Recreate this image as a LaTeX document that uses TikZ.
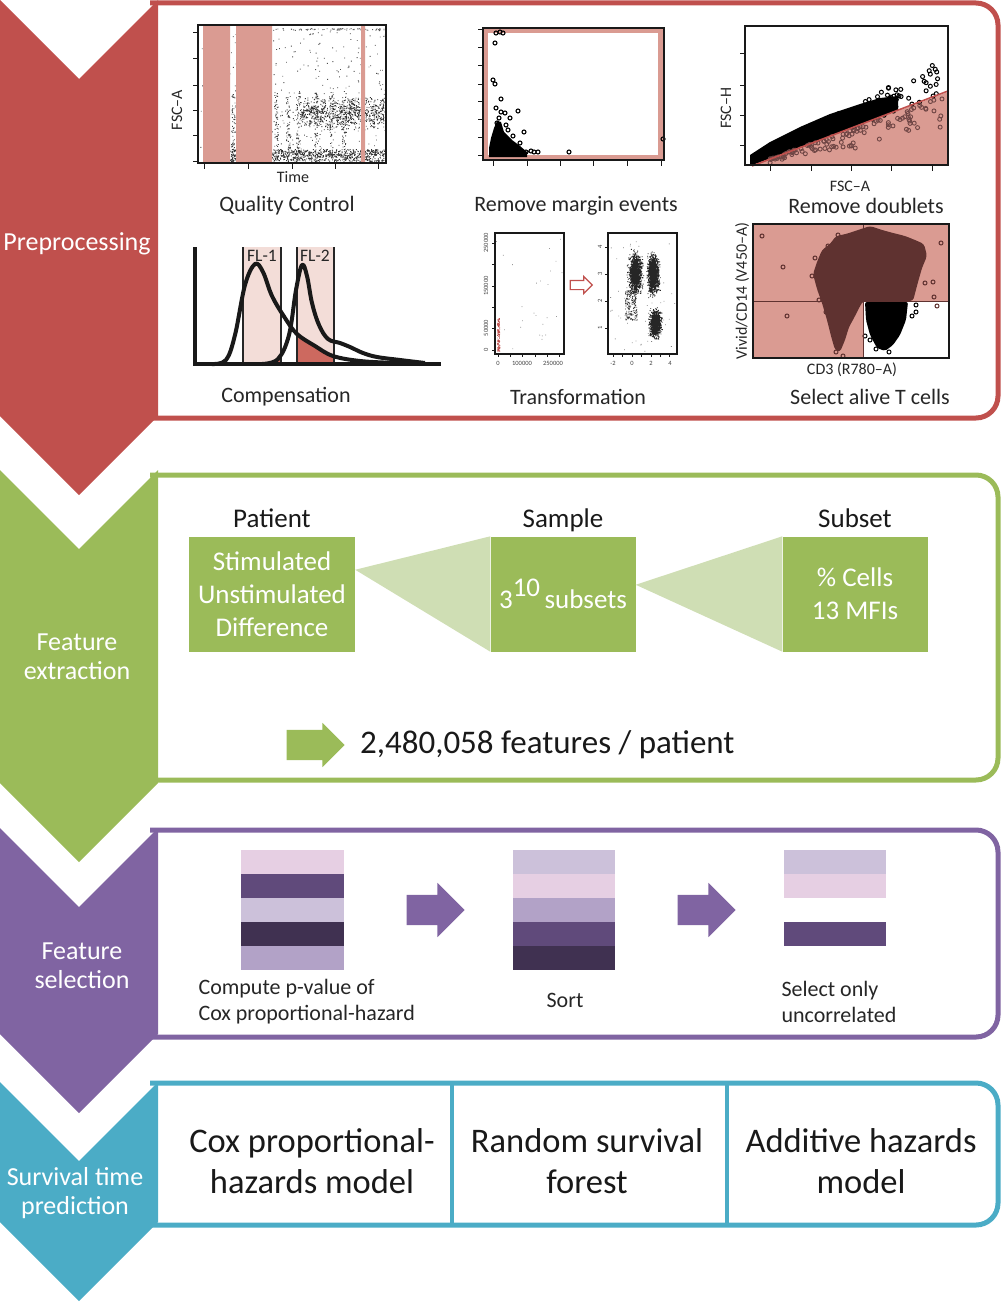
\documentclass[tikz,border=0pt]{standalone}
\usepackage{fontspec}
\setmainfont{Carlito}
\usetikzlibrary{positioning,calc,shapes.arrows}

\definecolor{prered}{HTML}{C0504D}
\definecolor{extgreen}{HTML}{9BBB59}
\definecolor{palegreen}{RGB}{207,222,180}
\definecolor{selpurple}{HTML}{8064A2}
\definecolor{predblue}{HTML}{4BACC6}
\definecolor{gatepink}{RGB}{218,155,146}
\definecolor{bandpink}{RGB}{243,221,216}
\definecolor{darkgate}{RGB}{205,105,95}
\definecolor{cloudbrown}{RGB}{95,50,48}
\definecolor{barpink}{HTML}{E6CFE3}
\definecolor{bardark}{HTML}{604A7B}
\definecolor{barlav}{HTML}{CCC1DA}
\definecolor{bardeep}{HTML}{403151}
\definecolor{barmid}{HTML}{B2A2C7}

\begin{document}
\begin{tikzpicture}[x=1pt, y=-1pt,
    panel/.style={line width=5pt, rounded corners=22pt},
    chevtext/.style={text=white, align=center, font=\fontsize{26}{29}\selectfont},
    caption/.style={font=\fontsize{22}{26}\selectfont, text=black!85},
    axlabel/.style={font=\fontsize{16}{18}\selectfont, text=black!85, inner sep=0},
    ticklabel/.style={font=\fontsize{6.5}{7}\selectfont, text=black!75, inner sep=0},
    plotframe/.style={draw=black!90, line width=1.3pt},
    tickmark/.style={draw=black!90, line width=1pt},
    greenbox/.style={fill=extgreen, text=white, align=center, inner sep=0, font=\fontsize{27}{33}\selectfont},
    heading/.style={font=\fontsize{27}{30}\selectfont, text=black!90, text height=0.72em, text depth=0.22em},
    blockarrow/.style={single arrow, single arrow head extend=7pt, inner xsep=0, inner ysep=15pt, minimum height=58pt},
    modeltext/.style={font=\fontsize{34.5}{41}\selectfont, align=center, text=black!90}
  ]
\useasboundingbox (0,0) rectangle (1004,1306);
\pgfmathsetseed{11}

% Panels
\draw[panel, prered] (150,3) -- (998,3) -- (998,418) -- (150,418);
\draw[panel, extgreen] (150,475) -- (998,475) -- (998,780) -- (150,780);
\draw[panel, selpurple] (150,830) -- (998,830) -- (998,1037) -- (150,1037);
\draw[panel, predblue] (150,1083) -- (998,1083) -- (998,1225) -- (150,1225);

% Chevrons
\fill[prered] (0,0) -- (79,79) -- (158,0) -- (158,416) -- (79,495) -- (0,416) -- cycle;
\fill[extgreen] (0,470) -- (79,549) -- (158,470) -- (158,783) -- (79,862) -- (0,783) -- cycle;
\fill[selpurple] (0,828) -- (79,907) -- (158,828) -- (158,1034) -- (79,1113) -- (0,1034) -- cycle;
\fill[predblue] (0,1082) -- (79,1161) -- (158,1082) -- (158,1222) -- (79,1301) -- (0,1222) -- cycle;
\node[chevtext] (prep) at (77,244) {Preprocessing};
\node[chevtext] (extr) at (77,657) {Feature\\extraction};
\node[chevtext] (sel) at (82,966) {Feature\\selection};
\node[chevtext] (pred) at (75,1193) {Survival time\\prediction};

% Quality control
\fill[black!80] \foreach \i in {1,...,900} {({230+155*rnd},{149+12*rnd}) rectangle ++(0.9,0.9)};
\fill[black!80] \foreach \i in {1,...,800} {({300+84*rnd},{112+9*(rand+rand)}) rectangle ++(0.9,0.9)};
\fill[black!70] \foreach \i in {1,...,400} {({200+185*rnd},{28+132*rnd}) rectangle ++(0.9,0.9)};
\fill[black!75] \foreach \c in {233,276,288,298,316,331,344} {\foreach \i in {1,...,60} {({\c+2*rand},{92+68*rnd}) rectangle ++(0.9,0.9)}};
\fill[black!60] \foreach \i in {1,...,80} {({272+114*rnd},{28+2*rnd}) rectangle ++(0.9,0.9)};
\fill[gatepink] (203,26) rectangle (230,162) (236,26) rectangle (272,162) (361,26) rectangle (365,162);
\draw[plotframe] (198,25) rectangle (386,163);
\draw[tickmark] \foreach \y in {33,59,85,110,135,161} {(198,\y) -- (193,\y)};
\draw[tickmark] \foreach \x in {204,248,292,335,378} {(\x,163) -- (\x,169)};
\node[axlabel, rotate=90] (qcy) at (177,110) {FSC–A};
\node[axlabel] (qcx) at (293,177) {Time};
\node[caption] (qc) at (287,206) {Quality Control};

% Remove margin events
\fill[gatepink] (483,28) rectangle (664,160);
\fill[white] (488,33) rectangle (658,155);
\fill[black] (489,157) -- (489,148) -- (491,138) -- (494,128) -- (497,121) -- (501,122) -- (504,132) -- (512,140) -- (520,146) -- (527,152) -- (527,157) -- cycle;
\draw[line width=1.1pt] \foreach \p in {(496,33),(500,32),(503,33),(495,43),(493,80),(495,84),(501,99),(496,108),(501,112),(505,113),(510,118),(518,111),(524,132),(508,130),(510,145),(497,123),(526,152),(531,151),(534,152),(538,152),(569,152),(663,139),(515,147),(520,143),(506,125),(499,118),(513,136)} {\p circle[radius=2]};
\draw[plotframe] (483,28) rectangle (664,160);
\draw[tickmark] \foreach \y in {30,48,66,84,101,119,137,155} {(483,\y) -- (478,\y)};
\draw[tickmark] \foreach \x in {493,527,560,593,627,661} {(\x,160) -- (\x,166)};
\node[caption] (margin) at (576,206) {Remove margin events};

% Remove doublets
\fill[gatepink] (755,165) -- (948,92) -- (948,165) -- cycle;
\begin{scope}
\clip (745,26) rectangle (948,165);
\fill[black] (750,166) -- (750,155) -- (770,142) -- (800,127) -- (830,114) -- (860,104) -- (880,98) -- (898,96) -- (898,110) -- cycle;
\foreach \i in {1,...,90} {
  \pgfmathsetmacro\px{780+160*rnd}
  \pgfmathsetmacro\py{164-0.357*(\px-752)-(6+0.16*(\px-752))*rnd}
  \draw[line width=1pt] (\px,\py) circle[radius=2];
}
\foreach \i in {1,...,110} {
  \pgfmathsetmacro\px{770+172*rnd}
  \pgfmathsetmacro\py{165-0.357*(\px-752)+(2+0.2*(\px-752))*rnd*rnd}
  \draw[cloudbrown!90, line width=0.9pt] (\px,\py) circle[radius=2];
}
\end{scope}
\draw[prered, line width=1.6pt] (752,166) -- (948,91);
\draw[plotframe] (745,26) rectangle (948,165);
\draw[tickmark] \foreach \y in {54,85,115,145} {(745,\y) -- (740,\y)};
\draw[tickmark] \foreach \x in {770,811,851,891,932} {(\x,165) -- (\x,171)};
\node[axlabel, rotate=90] (dby) at (726,108) {FSC–H};
\node[axlabel] (dbx) at (850,186) {FSC–A};
\node[caption] (doub) at (866,206) {Remove doublets};

% Compensation
\fill[bandpink] (243,247) rectangle (281,364) (297,247) rectangle (334,364);
\fill[darkgate] (297,364) -- (297,336) -- (310,344) -- (322,351) -- (334,356) -- (334,364) -- cycle;
\fill[darkgate] (270,364) -- (281,357) -- (281,364) -- cycle;
\draw[black!85, line width=1.3pt] (243,247) -- (243,364) (281,247) -- (281,364) (297,247) -- (297,364) (334,247) -- (334,364);
\draw[black!90, line width=4pt, line join=round] plot[smooth, tension=0.6] coordinates {(212,364) (226,360) (235,335) (245,285) (255,264) (263,272) (272,296) (285,318) (297,334) (315,346) (333,356) (360,361) (395,363) (420,364)};
\draw[black!90, line width=4pt, line join=round] plot[smooth, tension=0.6] coordinates {(262,364) (278,359) (289,335) (296,290) (302,265) (307,276) (312,303) (319,325) (328,339) (340,343) (350,347) (363,353) (377,357) (400,360) (425,363)};
\draw[black!90, line width=3.5pt] (195,247) -- (195,364) -- (441,364);
\node[font=\fontsize{17.5}{19}\selectfont, text=black!85] (fl1) at (262,256) {FL-1};
\node[font=\fontsize{17.5}{19}\selectfont, text=black!85] (fl2) at (315,256) {FL-2};
\node[caption] (comp) at (286,397) {Compensation};

% Transformation
\fill[black!40] \foreach \i in {1,...,25} {({496+66*rnd},{236+116*rnd}) rectangle ++(0.8,0.8)};
\fill[prered] \foreach \i in {1,...,120} {({497+2.5*rnd},{318+34*rnd}) rectangle ++(0.8,0.8)};
\draw[plotframe, line width=1.1pt] (495,233) rectangle (564,354);
\draw[tickmark, line width=0.7pt] \foreach \y in {243,264,286,307,328,350} {(495,\y) -- (492,\y)};
\draw[tickmark, line width=0.7pt] \foreach \x in {498,510,522,535,547,559} {(\x,354) -- (\x,357)};
\node[ticklabel, rotate=90] (ly1) at (486,243) {250000};
\node[ticklabel, rotate=90] (ly2) at (486,286) {150000};
\node[ticklabel, rotate=90] (ly3) at (486,328) {50000};
\node[ticklabel, rotate=90] (ly4) at (486,350) {0};
\node[ticklabel] (lx1) at (498,363) {0};
\node[ticklabel] (lx2) at (522,363) {100000};
\node[ticklabel] (lx3) at (553,363) {250000};
\node[single arrow, draw=prered, fill=white, line width=1.2pt, minimum height=22pt, inner xsep=0, inner ysep=4pt, single arrow head extend=4pt] (tarrow) at (579,285) {};
\fill[black, opacity=0.85] \foreach \i in {1,...,1100} {({635+3*(rand+rand+rand)},{273+9*(rand+rand+rand)}) rectangle ++(0.9,0.9)};
\fill[black, opacity=0.85] \foreach \i in {1,...,1100} {({653+2.6*(rand+rand+rand)},{273+9*(rand+rand+rand)}) rectangle ++(0.9,0.9)};
\fill[black, opacity=0.85] \foreach \i in {1,...,900} {({655+2.6*(rand+rand+rand)},{323+6*(rand+rand+rand)}) rectangle ++(0.9,0.9)};
\fill[black!80] \foreach \i in {1,...,200} {({631+6*rand},{305+15*rand}) rectangle ++(0.8,0.8)};
\fill[black!50] \foreach \i in {1,...,60} {({610+65*rnd},{236+115*rnd}) rectangle ++(0.8,0.8)};
\draw[plotframe, line width=1.1pt] (608,233) rectangle (677,354);
\draw[tickmark, line width=0.7pt] \foreach \y in {247,274,301,328} {(608,\y) -- (605,\y)};
\draw[tickmark, line width=0.7pt] \foreach \x in {613,622,632,641,651,660,669} {(\x,354) -- (\x,357)};
\foreach \v/\y in {4/247,3/274,2/301,1/328} {\node[ticklabel, rotate=90] (ry\v) at (600,\y) {\v};}
\node[ticklabel] (rx1) at (613,363) {-2};
\node[ticklabel] (rx2) at (632,363) {0};
\node[ticklabel] (rx3) at (651,363) {2};
\node[ticklabel] (rx4) at (670,363) {4};
\node[caption] (trans) at (578,397) {Transformation};

% Select alive T cells
\fill[gatepink] (753,224) rectangle (949,358);
\fill[white] (863,301) rectangle (949,358);
\fill[cloudbrown, rounded corners=3pt] (817,262) -- (822,250) -- (830,244) -- (836,236) -- (846,234) -- (858,230) -- (870,226) -- (882,230) -- (893,233) -- (905,236) -- (915,240) -- (924,244) -- (927,256) -- (922,268) -- (918,282) -- (913,301) -- (863,301) -- (859,308) -- (854,318) -- (849,327) -- (845,340) -- (840,352) -- (835,350) -- (831,336) -- (827,320) -- (822,303) -- (817,289) -- (813,274) -- cycle;
\draw[cloudbrown, line width=1pt] \foreach \p in {(762,236),(838,235),(783,267),(787,316),(941,243),(933,282),(934,297),(937,306),(815,258),(812,276),(838,344),(836,352),(842,330),(920,262),(925,283),(828,246),(819,300),(826,312),(843,356)} {\p circle[radius=2]};
\fill[black, rounded corners=2pt] (865,302) -- (908,302) -- (906,320) -- (900,335) -- (893,345) -- (885,351) -- (877,348) -- (870,335) -- (866,320) -- cycle;
\draw[black, line width=1pt] \foreach \p in {(916,305),(916,312),(865,336),(880,342),(876,349),(912,316),(870,340),(889,352)} {\p circle[radius=2]};
\draw[cloudbrown, line width=1pt] (863,224) -- (863,358) (753,301) -- (949,301);
\draw[plotframe] (753,224) rectangle (949,358);
\node[axlabel, rotate=90] (tcy) at (742,291) {Vivid/CD14 (V450–A)};
\node[axlabel] (tcx) at (852,370) {CD3 (R780–A)};
\node[caption] (tcell) at (870,397) {Select alive T cells};

% Feature extraction
\node[greenbox, minimum width=166pt, minimum height=115pt] (pat) at (272,594) {Stimulated\\Unstimulated\\Difference};
\node[greenbox, minimum width=145pt, minimum height=115pt] (samp) at (563,594) {3\raisebox{0.45em}{10}\,subsets};
\node[greenbox, minimum width=145pt, minimum height=115pt] (sub) at (855,594) {\% Cells\\13 MFIs};
\node[heading, above=3pt of pat] (patlbl) {Patient};
\node[heading, above=3pt of samp] (samplbl) {Sample};
\node[heading, above=3pt of sub] (sublbl) {Subset};
\fill[palegreen] ($(pat.north east)!0.29!(pat.south east)$) -- (samp.north west) -- (samp.south west) -- cycle;
\fill[palegreen] ($(samp.north east)!0.42!(samp.south east)$) -- (sub.north west) -- (sub.south west) -- cycle;
\node[blockarrow, fill=extgreen] (garrow) at (308,745) {};
\node[right=15pt of garrow, inner sep=0, font=\fontsize{33}{36}\selectfont, text=black!90] (total) {2,480,058 features / patient};

% Feature selection
\foreach \c [count=\k from 0] in {barpink,bardark,barlav,bardeep,barmid} {\fill[\c] (241,{850+24*\k}) rectangle (344,{874+24*\k});}
\foreach \c [count=\k from 0] in {barlav,barpink,barmid,bardark,bardeep} {\fill[\c] (513,{850+24*\k}) rectangle (615,{874+24*\k});}
\fill[barlav] (784,850) rectangle (886,874);
\fill[barpink] (784,874) rectangle (886,898);
\fill[bardark] (784,922) rectangle (886,946);
\node[blockarrow, fill=selpurple, single arrow head extend=12pt] (parrow1) at (428,910) {};
\node[blockarrow, fill=selpurple, single arrow head extend=12pt] (parrow2) at (699,910) {};
\node[caption, align=left, anchor=west, font=\fontsize{22}{26}\selectfont] (cox) at (195,1002) {Compute p-value of\\Cox proportional-hazard};
\node[caption] (sort) at (565,1000) {Sort};
\node[caption, align=left, anchor=west, font=\fontsize{22}{26}\selectfont] (uncor) at (778,1002) {Select only\\uncorrelated};

% Survival time prediction
\draw[predblue, line width=4pt] (452,1083) -- (452,1225) (727,1083) -- (727,1225);
\node[modeltext] (coxm) at (312,1161) {Cox proportional-\\hazards model};
\node[modeltext] (rsf) at (587,1161) {Random survival\\forest};
\node[modeltext] (aha) at (861,1161) {Additive hazards\\model};
\end{tikzpicture}
\end{document}
